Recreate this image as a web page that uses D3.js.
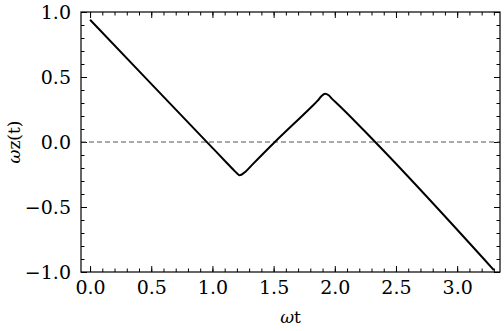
<!doctype html>
<meta charset="utf-8">
<style>
  body { margin: 0; background: #fff; }
  svg { display: block; }
</style>
<svg id="chart" width="504" height="331"></svg>
<script src="https://d3js.org/d3.v7.min.js"></script>
<script>
  // values
  let omegaT = [0, 0.5, 1.0, 1.12, 1.17, 1.2, 1.22, 1.24, 1.27, 1.32, 1.51, 1.8, 1.86, 1.89, 1.92, 1.95, 1.98, 2.02, 2.33, 3.30];
  let omegaZ = [0.94, 0.447, -0.045, -0.163, -0.212, -0.24, -0.255, -0.25, -0.228, -0.18, 0.0, 0.262, 0.318, 0.352, 0.372, 0.36, 0.33, 0.295, 0.0, -0.985];
  let xTicks = [0, 0.5, 1.0, 1.5, 2.0, 2.5, 3.0];
  let yTicks = [-1.0, -0.5, 0.0, 0.5, 1.0];

  let serif = "'DejaVu Serif', 'Liberation Serif', 'Times New Roman', serif";
  let svg = d3.select("#chart");
  let mLeft = 81, mRight = 500, mTop = 12, mBottom = 272;

  let x = d3.scaleLinear().domain([-0.074, 3.35]).range([mLeft, mRight]);
  let y = d3.scaleLinear().domain([-1, 1]).range([mBottom, mTop]);

  let fmt = d => d3.format(".1f")(d).replace("-", "\u2212");
  let xMinor = d3.range(0, 3.35, 0.1);
  let yMinor = d3.range(-10, 11).map(d => d / 10);

  // minor ticks, all four sides, inward
  function minorAxis(gen, tr, vals) {
    svg.append("g").attr("transform", tr)
      .call(gen.tickValues(vals).tickSize(3.5).tickFormat(""))
      .call(g => g.select(".domain").remove());
  }
  minorAxis(d3.axisTop(x), `translate(0,${mBottom})`, xMinor);
  minorAxis(d3.axisBottom(x), `translate(0,${mTop})`, xMinor);
  minorAxis(d3.axisRight(y), `translate(${mLeft},0)`, yMinor);
  minorAxis(d3.axisLeft(y), `translate(${mRight},0)`, yMinor);

  // major ticks
  let gx = svg.append("g").attr("transform", `translate(0,${mBottom})`)
    .call(d3.axisBottom(x).tickValues(xTicks).tickSizeInner(-6).tickSizeOuter(0).tickPadding(16).tickFormat(fmt));
  gx.select(".domain").remove();
  gx.selectAll("text").attr("dy", "0.3em");

  let gy = svg.append("g").attr("transform", `translate(${mLeft},0)`)
    .call(d3.axisLeft(y).tickValues(yTicks).tickSizeInner(-6).tickSizeOuter(0).tickPadding(10).tickFormat(fmt));
  gy.select(".domain").remove();

  svg.append("g").attr("transform", `translate(0,${mTop})`)
    .call(d3.axisTop(x).tickValues(xTicks).tickSizeInner(-6).tickSizeOuter(0).tickFormat(""))
    .call(g => g.select(".domain").remove());
  svg.append("g").attr("transform", `translate(${mRight},0)`)
    .call(d3.axisRight(y).tickValues(yTicks).tickSizeInner(-6).tickSizeOuter(0).tickFormat(""))
    .call(g => g.select(".domain").remove());

  svg.selectAll(".tick line").attr("stroke", "#000").attr("stroke-width", 1);
  svg.selectAll(".tick text")
    .attr("font-family", serif)
    .attr("font-size", 19)
    .attr("fill", "#000");

  // zero line
  svg.append("line")
    .attr("x1", mLeft).attr("x2", mRight)
    .attr("y1", y(0)).attr("y2", y(0))
    .attr("stroke", "#555").attr("stroke-width", 1.2)
    .attr("stroke-dasharray", "5,3");

  // curve
  let line = d3.line()
    .x((d, i) => x(omegaT[i]))
    .y(d => y(d))
    .curve(d3.curveMonotoneX);
  svg.append("path")
    .datum(omegaZ)
    .attr("d", line)
    .attr("fill", "none")
    .attr("stroke", "#000")
    .attr("stroke-width", 2)
    .attr("stroke-linejoin", "round");

  // frame
  svg.append("rect")
    .attr("x", mLeft).attr("y", mTop)
    .attr("width", mRight - mLeft).attr("height", mBottom - mTop)
    .attr("fill", "none").attr("stroke", "#000").attr("stroke-width", 1.2);

  // axis labels
  svg.append("text")
    .attr("font-family", serif).attr("font-size", 17)
    .attr("x", (mLeft + mRight) / 2).attr("y", 323)
    .attr("text-anchor", "middle")
    .html('<tspan font-style="italic">\u03c9</tspan>t');

  svg.append("text")
    .attr("font-family", serif).attr("font-size", 17)
    .attr("transform", `translate(20,${(mTop + mBottom) / 2}) rotate(-90)`)
    .attr("text-anchor", "middle")
    .html('<tspan font-style="italic">\u03c9</tspan>z(t)');
</script>
